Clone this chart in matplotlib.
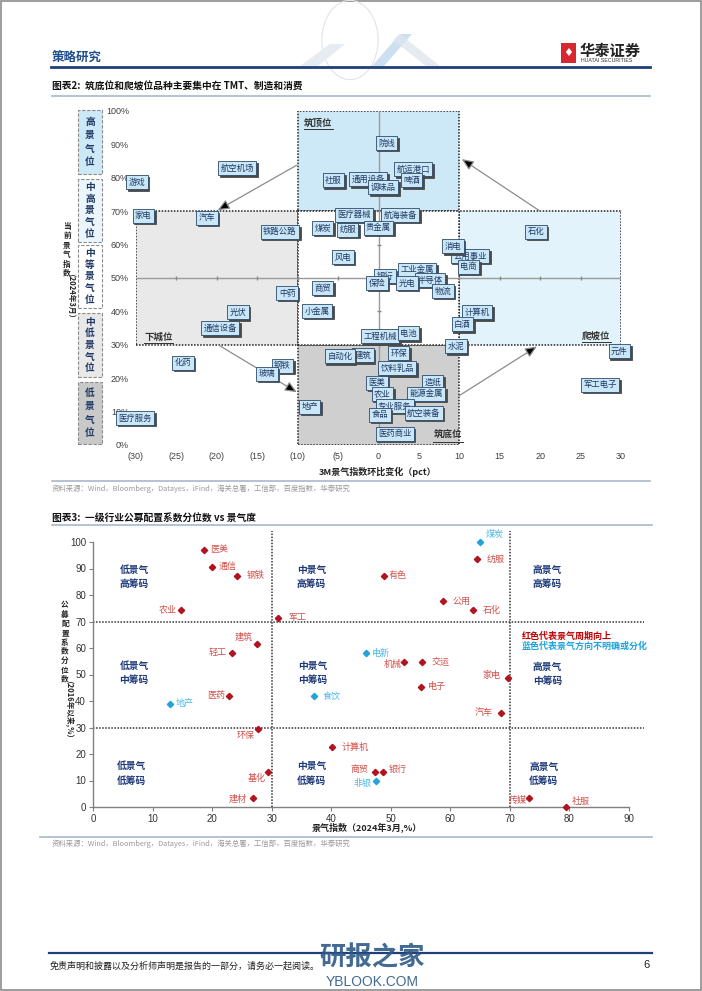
import matplotlib.pyplot as plt
from matplotlib.patches import Rectangle, Polygon, Circle
from matplotlib import transforms

plt.rcParams['font.family'] = ['Noto Sans CJK SC', 'DejaVu Sans']

# ---------------- 图表2 数据 (3M景气指数环比变化 pct, 当前景气指数 %) ----------------
top_names = ['通用设备', '院线', '航运港口', '啤酒', '社服', '调味品', '航空机场', '游戏', '家电', '汽车',
             '铁路公路', '医疗器械', '航海装备', '煤炭', '纺服', '贵金属', '石化', '公用事业', '消电', '电商',
             '风电', '工业金属', '银行', '半导体', '保险', '光电', '物流', '商贸', '中药', '小金属',
             '光伏', '通信设备', '计算机', '白酒', '工程机械', '电池', '水泥', '元件', '化药', '建筑',
             '自动化', '环保', '钢铁', '玻璃', '饮料乳品', '军工电子', '医美', '造纸', '农业', '能源金属',
             '专业服务', '食品', '航空装备', '地产', '医疗服务', '医药商业']
top_x = [-1.3, 1.0, 4.3, 4.1, -5.6, 0.6, -17.5, -29.9, -29.1, -21.2,
         -12.2, -3.0, 2.7, -6.9, -3.8, 0.0, 19.5, 11.3, 9.2, 11.1,
         -4.4, 4.8, 0.8, 6.4, -0.2, 3.5, 8.0, -6.9, -11.3, -7.6,
         -17.4, -19.6, 12.2, 10.4, 0.2, 3.7, 9.6, 29.8, -24.2, -1.9,
         -4.8, 2.5, -11.9, -13.8, 2.3, 27.4, -0.2, 6.7, 0.5, 5.9,
         2.0, 0.2, 5.6, -8.5, -30.1, 2.0]
top_y = [79.6, 90.4, 82.6, 79.3, 79.3, 77.2, 82.9, 78.7, 68.6, 68.0,
         63.8, 68.9, 68.9, 65.0, 64.4, 65.0, 63.8, 56.6, 59.5, 53.3,
         56.3, 52.4, 50.6, 49.4, 48.5, 48.5, 46.1, 47.0, 45.5, 40.1,
         39.8, 35.0, 39.8, 36.2, 32.6, 33.5, 29.6, 28.1, 24.6, 26.9,
         26.6, 27.5, 23.7, 21.3, 23.0, 18.0, 18.6, 18.9, 15.3, 15.3,
         11.7, 9.0, 9.6, 11.4, 8.1, 3.3]
top_xticklabels = ['(30)', '(25)', '(20)', '(15)', '(10)', '(5)', '0', '5', '10', '15', '20', '25', '30']

# ---------------- 图表3 数据 (景气指数 %, 公募配置系数分位数 %) ----------------
bot_names = ['医美', '通信', '钢铁', '农业', '军工', '建筑', '轻工', '医药', '食饮', '煤炭',
             '纺服', '有色', '公用', '石化', '电新', '机械', '交运', '家电', '电子', '地产',
             '环保', '基化', '建材', '计算机', '汽车', '商贸', '银行', '非银', '传媒', '社服']
bot_x = [18.6, 20.0, 24.1, 14.8, 31.1, 27.5, 23.3, 22.8, 37.1, 64.9,
         64.4, 48.8, 58.7, 63.8, 45.8, 52.2, 55.2, 69.6, 55.0, 12.9,
         27.7, 29.4, 26.8, 40.1, 68.5, 47.3, 48.7, 47.6, 73.2, 79.5]
bot_y = [97.0, 90.6, 87.2, 74.3, 71.3, 61.5, 58.1, 41.9, 41.9, 100.0,
         93.6, 87.2, 77.7, 74.3, 58.1, 54.7, 54.7, 48.7, 45.3, 38.9,
         29.4, 13.2, 3.4, 22.6, 35.5, 13.2, 13.2, 9.8, 3.4, 0.0]
bot_up = [1, 1, 1, 1, 1, 1, 1, 1, 0, 0,
          1, 1, 1, 1, 0, 1, 1, 1, 1, 0,
          1, 1, 1, 1, 1, 1, 1, 0, 1, 1]
# 标签偏移 (像素) 与对齐
bot_dx = [6, 7, 10, -4, 10, -4, -5, -4, 9, 6, 10, 5, 10, 10, 6, -2, 10, -7, 7, 6,
          -3, -2, -6, 10, -8, -6, 6, -5, -2, 5]
bot_dy = [0, 1, 0, 0, 1, 7, 1, 0, 0, 8, 0, 0, 0, 0, 0, -2, 0, 2, 0, 0,
          -6, -6, -1, 0, 0, 3, 3, -2, -2, 6]
quad_text = ['低景气\n高筹码', '中景气\n高筹码', '高景气\n高筹码',
             '低景气\n中筹码', '中景气\n中筹码', '高景气\n中筹码',
             '低景气\n低筹码', '中景气\n低筹码', '高景气\n低筹码']
quad_x = [6.9, 36.7, 76.3, 6.9, 36.9, 76.3, 6.5, 36.7, 75.7]
quad_y = [86.8, 86.8, 86.8, 50.6, 50.6, 50.2, 12.8, 12.8, 12.5]

W, H = 702, 991
fig = plt.figure(figsize=(7.02, 9.91), dpi=100)
fig.patch.set_facecolor('white')


def fx(px):
    return px / W


def fy(py):
    return 1 - py / H


def ftext(px, py, s, **kw):
    fig.text(fx(px), fy(py), s, **kw)


def fline(x0, x1, py, color, lw):
    fig.add_artist(plt.Line2D([fx(x0), fx(x1)], [fy(py), fy(py)], color=color, lw=lw))


ARIAL = ['Liberation Sans', 'DejaVu Sans']
NAVY = '#1f3864'

# 页面边框
fig.add_artist(Rectangle((0.001, 0.001), 0.998, 0.998, transform=fig.transFigure,
                         fill=False, ec='#8c8c8c', lw=1.2))

# ---------------- 页眉 ----------------
fig.add_artist(Circle((fx(350), fy(40)), 0.04, transform=fig.transFigure, fill=False,
                      ec='#e0e4ea', lw=0.8))
fig.add_artist(Polygon([[fx(372), fy(66)], [fx(400), fy(34)], [fx(412), fy(34)], [fx(384), fy(66)]],
                       closed=True, transform=fig.transFigure, fc='#b9d3ea', ec='none', alpha=0.7))
fig.add_artist(Polygon([[fx(400), fy(34)], [fx(440), fy(66)], [fx(426), fy(66)], [fx(393), fy(40)]],
                       closed=True, transform=fig.transFigure, fc='#dfe6ee', ec='none', alpha=0.8))
fig.add_artist(Polygon([[fx(300), fy(66)], [fx(330), fy(44)], [fx(345), fy(44)], [fx(318), fy(66)]],
                       closed=True, transform=fig.transFigure, fc='#e6ecf2', ec='none'))
ftext(52, 57, '策略研究', fontsize=9, fontweight='bold', color='#1f4e8c', va='center')
fline(51, 650, 67, '#1f3f7a', 2.0)
fig.add_artist(Rectangle((fx(561), fy(63)), fx(15), 20 / H, transform=fig.transFigure,
                         fc='#d7282f', ec='none'))
ftext(568.5, 53, '♦', fontsize=8, color='white', ha='center', va='center', family=['DejaVu Sans'])
ftext(580, 51, '华泰证券', fontsize=11, fontweight='bold', color='#222222', va='center')
ftext(581, 61, 'HUATAI SECURITIES', fontsize=3.8, color='#333333', va='center', family=ARIAL)

# ---------------- 图表2 ----------------
ftext(52, 87, '图表2:  筑底位和爬坡位品种主要集中在 TMT、制造和消费', fontsize=7, fontweight='bold',
      color='#111111', va='center')
fline(52, 650, 96, '#a9b7cb', 1.2)

ax1 = fig.add_axes([fx(136), fy(445), 485 / W, 334 / H])
ax1.set_xlim(-30, 30)
ax1.set_ylim(0, 100)
for sp in ax1.spines.values():
    sp.set_visible(False)
ax1.set_xticks(range(-30, 31, 5))
ax1.set_xticklabels(top_xticklabels, family=ARIAL)
ax1.set_yticks(range(0, 101, 10))
ax1.set_yticklabels([f'{v}%' for v in range(0, 101, 10)], family=ARIAL)
ax1.tick_params(length=0, labelsize=6.5, colors='#404040', pad=5)

dot = (0, (1, 1))
zones = [(-10, 70, 20, 30, '#cde9f7'), (10, 30, 20, 40, '#e3f3fb'),
         (-30, 30, 20, 40, '#e9e9e9'), (-10, 0, 20, 30, '#cfcfcf'), (-10, 30, 20, 40, 'white')]
for zx, zy, zw, zh, zc in zones:
    ax1.add_patch(Rectangle((zx, zy), zw, zh, fc=zc, ec='#222222', lw=1.1, ls=dot, zorder=0.5))

ax1.plot([-30, 30], [50, 50], color='#9a9a9a', lw=1.0, zorder=1)
ax1.plot([0, 0], [0, 100], color='#9a9a9a', lw=1.0, zorder=1)
ax1.plot([v for v in range(-25, 26, 5) if v != 0], [50] * 10, ls='none', marker='|',
         ms=3, color='#8a8a8a', zorder=1)
ax1.plot([0] * 9, list(range(10, 100, 10)), ls='none', marker='_', ms=3, color='#8a8a8a', zorder=1)

for s, lx, ly in [('筑顶位', -9.2, 96.5), ('下城位', -29.0, 32.5), ('爬坡位', 25.2, 32.8), ('筑底位', 6.8, 3.0)]:
    ax1.text(lx, ly, s, fontsize=6.8, fontweight='bold', color='#333333', ha='left', va='center', zorder=2)
    ax1.plot([lx, lx + 3.6], [ly - 2.0, ly - 2.0], color='#333333', lw=0.7, zorder=2)

arrows = [((-10.1, 83.8), (-19.9, 70.3)), ((20.0, 70.0), (10.3, 85.6)),
          ((-19.7, 29.8), (-10.1, 15.8)), ((10.0, 14.8), (19.6, 29.5))]
for (sx, sy), (ex, ey) in arrows:
    ax1.annotate('', xy=(ex, ey), xytext=(sx, sy),
                 arrowprops=dict(arrowstyle='-|>,head_length=0.7,head_width=0.3', fc='black',
                                 ec='#8c8c8c', lw=0.9, shrinkA=0, shrinkB=0), zorder=3)

shadow_tr = transforms.offset_copy(ax1.transData, fig=fig, x=1.6, y=-1.6, units='dots')
for i, (n, xv, yv) in enumerate(zip(top_names, top_x, top_y)):
    z = 4 + i * 0.01
    ax1.text(xv, yv, n, transform=shadow_tr, fontsize=6, color='#4a4a4a', ha='center', va='center',
             bbox=dict(boxstyle='square,pad=0.28', fc='#4a4a4a', ec='#4a4a4a', lw=0.6),
             zorder=z, clip_on=False)
    ax1.text(xv, yv, n, fontsize=6, color=NAVY, ha='center', va='center',
             bbox=dict(boxstyle='square,pad=0.28', fc='#c9e7f7', ec='#2b4a6b', lw=0.6),
             zorder=z + 0.005, clip_on=False)

# 左侧景气分档
bands = [('高景气位', 110, 174, '#cde9f7', 1.45), ('中高景气位', 179, 242, '#eaf6fc', 1.2),
         ('中等景气位', 245, 308, 'white', 1.2), ('中低景气位', 313, 377, '#e8e8e8', 1.2),
         ('低景气位', 382, 444, '#c9c9c9', 1.45)]
for s, t, b, c, lsp in bands:
    fig.add_artist(Rectangle((fx(78), fy(b)), 24 / W, (b - t) / H, transform=fig.transFigure,
                             fc=c, ec='#8a8a8a', lw=0.8, ls=(0, (3, 1.5))))
    ftext(90, (t + b) / 2, '\n'.join(s), fontsize=7, fontweight='bold', color=NAVY,
          ha='center', va='center', linespacing=lsp)

ftext(67, 250, '\n'.join('当前景气指数'), fontsize=5.5, fontweight='bold', color='#222222',
      ha='center', va='center', linespacing=1.05)
ftext(67, 301, '（2024年3月）', fontsize=5.5, fontweight='bold', color='#222222',
      ha='center', va='center', rotation=-90)
ftext(378, 472, '3M景气指数环比变化（pct）', fontsize=6.5, fontweight='bold', color='#222222',
      ha='center', va='center')
fline(52, 650, 481, '#a9b7cb', 1.2)
ftext(52, 489, '资料来源：Wind，Bloomberg，Datayes，iFind，海关总署，工信部，百度指数，华泰研究',
      fontsize=5.3, color='#9a9a9a', va='center')

# ---------------- 图表3 ----------------
ftext(52, 518, '图表3:  一级行业公募配置系数分位数 vs 景气度', fontsize=7, fontweight='bold',
      color='#111111', va='center')
fline(52, 652, 525, '#a9b7cb', 1.2)

ax2 = fig.add_axes([fx(93), fy(807), 536 / W, 265 / H])
ax2.set_xlim(0, 90)
ax2.set_ylim(0, 100)
for k in ['top', 'right']:
    ax2.spines[k].set_visible(False)
for k in ['left', 'bottom']:
    ax2.spines[k].set_color('#808080')
    ax2.spines[k].set_linewidth(1.0)
ax2.set_xticks(range(0, 91, 10))
ax2.set_yticks(range(0, 101, 10))
ax2.set_xticklabels([str(v) for v in range(0, 91, 10)], family=ARIAL)
ax2.set_yticklabels([str(v) for v in range(0, 101, 10)], family=ARIAL)
ax2.tick_params(length=3, width=0.8, color='#808080', labelsize=7, labelcolor='#333333', pad=2)

for xv in [30, 70]:
    ax2.plot([xv, xv], [0, 104], ls=dot, color='#333333', lw=1.1, clip_on=False, zorder=1)
for yv in [30, 70]:
    ax2.plot([0, 92.6], [yv, yv], ls=dot, color='#333333', lw=1.1, clip_on=False, zorder=1)

for n, xv, yv, up, dx, dy in zip(bot_names, bot_x, bot_y, bot_up, bot_dx, bot_dy):
    mc = '#b0141f' if up else '#22a3dc'
    tc = '#d0504a' if up else '#4cb8e8'
    ax2.plot(xv, yv, marker='D', ms=3.2, color=mc, ls='none', clip_on=False, zorder=3)
    ax2.annotate(n, (xv, yv), xytext=(dx, dy), textcoords='offset pixels', fontsize=6.5,
                 color=tc, ha='left' if dx > 0 else 'right', va='center', zorder=3,
                 annotation_clip=False)

for s, qx, qy in zip(quad_text, quad_x, quad_y):
    ax2.text(qx, qy, s, fontsize=7, fontweight='bold', color='#1f3a7a', ha='center', va='center',
             linespacing=1.6)

ax2.text(72, 64.5, '红色代表景气周期向上', fontsize=6.5, fontweight='bold', color='#c00000',
         ha='left', va='center')
ax2.text(72, 60.6, '蓝色代表景气方向不明确或分化', fontsize=6.5, fontweight='bold', color='#1fa3dc',
         ha='left', va='center')

ftext(367, 828, '景气指数（2024年3月,%）', fontsize=6.5, fontweight='bold', color='#222222',
      ha='center', va='center')
ftext(65, 642, '\n'.join('公募配置系数分位数'), fontsize=5.5, fontweight='bold', color='#222222',
      ha='center', va='center', linespacing=1.05)
ftext(65, 714, '（2016年以来,%）', fontsize=5.5, fontweight='bold', color='#222222',
      ha='center', va='center', rotation=-90)
fline(40, 652, 837, '#a9b7cb', 1.2)
ftext(52, 844, '资料来源：Wind，Bloomberg，Datayes，iFind，海关总署，工信部，百度指数，华泰研究',
      fontsize=5.3, color='#9a9a9a', va='center')

# ---------------- 页脚 ----------------
fline(49, 652, 953, '#1f3f7a', 1.6)
ftext(50, 966, '免责声明和披露以及分析师声明是报告的一部分，请务必一起阅读。', fontsize=6.5,
      style='italic', color='#222222', va='center')
ftext(650, 965, '6', fontsize=8, color='#222222', ha='right', va='center', family=ARIAL)
ftext(372, 958, '研报之家', fontsize=19, fontweight='bold', color='#2d5a86', ha='center',
      va='center', alpha=0.9)
ftext(372, 982, 'YBLOOK.COM', fontsize=10, color='#2d5a86', ha='center', va='center',
      family=ARIAL, alpha=0.9)

fig.savefig('out.png', dpi=100)
